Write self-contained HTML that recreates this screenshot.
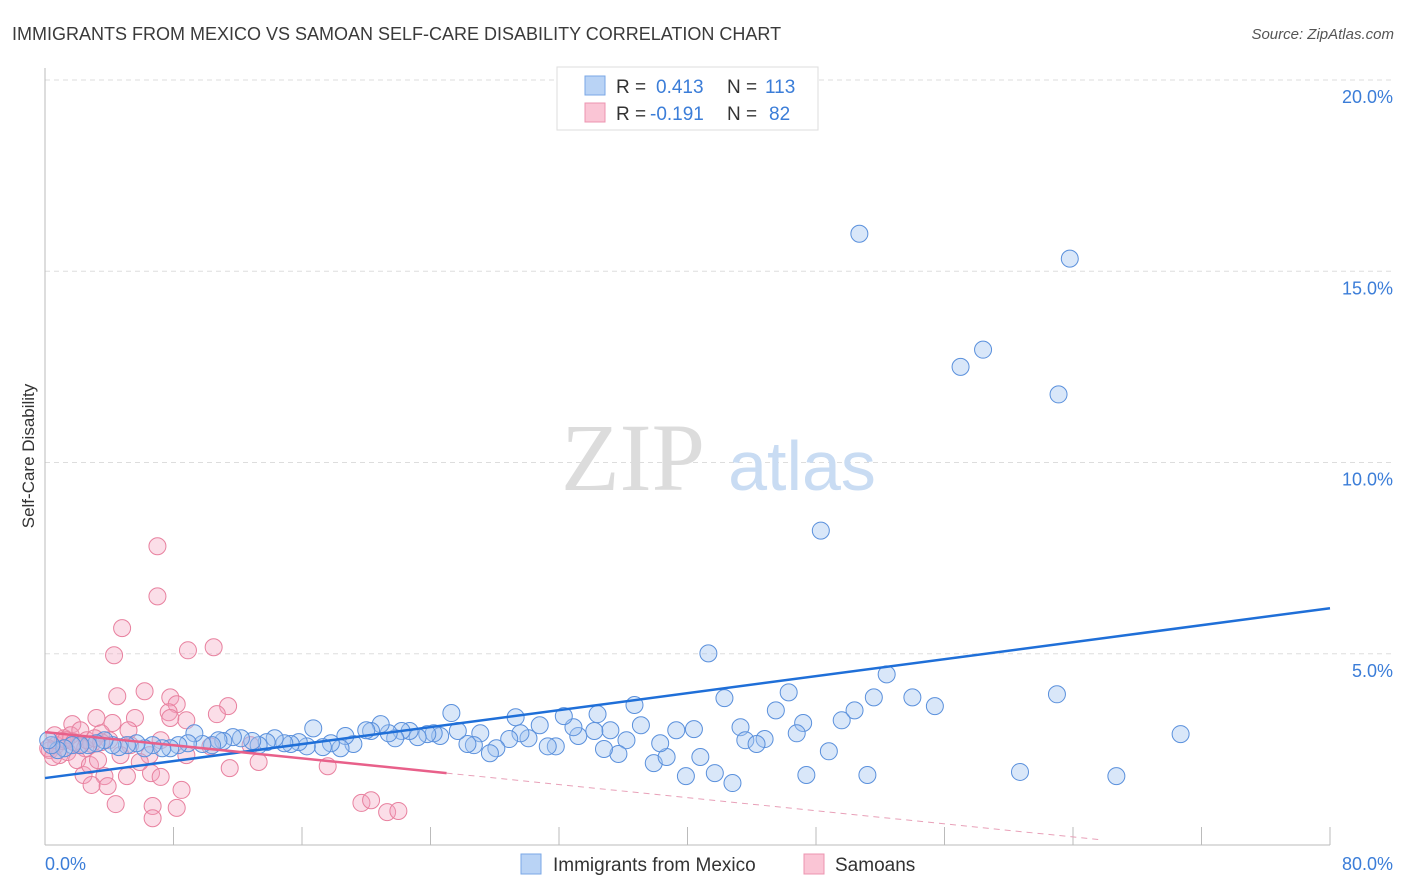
<!DOCTYPE html>
<html><head><meta charset="utf-8"><style>
body{margin:0;background:#fff;font-family:"Liberation Sans",sans-serif}
svg{display:block}
</style></head><body>
<svg id="chart" width="1406" height="892" xmlns="http://www.w3.org/2000/svg">
<text x="12" y="40" font-size="18" fill="#3a3a3a">IMMIGRANTS FROM MEXICO VS SAMOAN SELF-CARE DISABILITY CORRELATION CHART</text>
<text x="1394" y="39" font-size="15" fill="#555" font-style="italic" text-anchor="end">Source: ZipAtlas.com</text>
<g id="grid"></g>
<g>
<text x="633" y="490" font-size="96" font-family="Liberation Serif,serif" fill="#dcdcdc" text-anchor="middle">ZIP</text>
<text x="802" y="490" font-size="70" fill="#c9dcf3" text-anchor="middle">atlas</text>
</g>
<g id="axes"></g>
<g id="pts"></g>
<g id="lines"></g>
<text transform="translate(34,456) rotate(-90)" font-size="17" fill="#333" text-anchor="middle">Self-Care Disability</text>
<g>
<rect x="557" y="67" width="261" height="63" fill="#fff" stroke="#ddd"/>
<rect x="585" y="76" width="20" height="19" fill="#b9d3f5" stroke="#7aa7e6"/>
<rect x="585" y="103" width="20" height="19" fill="#fac5d5" stroke="#ec94b0"/>
<text x="616" y="93" font-size="19" fill="#333">R = </text><text x="656" y="93" font-size="19" fill="#3b7dd8">0.413</text>
<text x="727" y="93" font-size="19" fill="#333">N = </text><text x="765" y="93" font-size="19" fill="#3b7dd8">113</text>
<text x="616" y="120" font-size="19" fill="#333">R = </text><text x="650" y="120" font-size="19" fill="#3b7dd8">-0.191</text>
<text x="727" y="120" font-size="19" fill="#333">N = </text><text x="769" y="120" font-size="19" fill="#3b7dd8">82</text>
</g>
<g>
<rect x="521" y="854" width="20" height="20" fill="#b9d3f5" stroke="#7aa7e6"/>
<text x="553" y="871" font-size="19" fill="#333">Immigrants from Mexico</text>
<rect x="804" y="854" width="20" height="20" fill="#fac5d5" stroke="#ec94b0"/>
<text x="835" y="871" font-size="19" fill="#333">Samoans</text>
</g>
</svg>
<script>
const blueX=[50.7,63.8,58.4,57.0,63.1,48.3,41.3,42.3,46.3,52.4,51.6,54.0,55.4,63.0,50.4,49.6,47.2,45.5,43.3,43.6,44.8,44.3,48.8,46.8,70.7,60.7,66.7,51.2,47.4,42.8,41.7,39.9,37.9,38.7,38.3,37.1,36.2,35.7,34.8,35.2,34.4,34.2,36.7,39.3,40.4,40.8,33.2,32.9,32.3,31.8,31.3,30.8,30.1,29.3,29.6,28.9,28.1,27.7,27.1,26.7,26.3,25.7,25.3,24.6,24.2,23.8,23.2,22.7,22.2,21.8,21.4,20.9,20.3,20.0,19.2,18.7,18.4,17.8,17.3,16.7,16.3,15.8,15.3,14.9,14.3,13.8,13.3,12.9,12.2,11.7,11.1,10.8,10.4,9.8,9.3,8.9,8.3,7.8,7.3,6.7,6.2,5.7,5.1,4.6,4.2,3.7,3.2,2.7,2.2,1.7,1.2,0.8,0.4,0.2];
const blueY=[15.98,15.33,12.95,12.5,11.78,8.22,5.01,3.84,3.99,4.46,3.86,3.86,3.63,3.94,3.52,3.26,3.19,3.52,3.08,2.74,2.77,2.64,2.45,2.92,2.90,1.91,1.80,1.83,1.83,1.62,1.88,1.80,2.14,2.30,2.66,3.13,2.74,2.38,2.51,3.00,3.42,2.98,3.66,3.00,3.03,2.30,2.85,3.08,3.37,2.58,2.58,3.13,2.79,3.34,2.92,2.77,2.53,2.40,2.92,2.61,2.64,2.98,3.45,2.85,2.92,2.90,2.82,2.98,2.98,2.79,2.92,3.16,2.98,3.00,2.64,2.85,2.53,2.66,2.56,3.05,2.58,2.69,2.64,2.66,2.79,2.69,2.61,2.72,2.79,2.82,2.72,2.74,2.61,2.64,2.92,2.66,2.61,2.53,2.53,2.61,2.53,2.66,2.61,2.56,2.61,2.74,2.66,2.61,2.61,2.61,2.53,2.48,2.61,2.74];
const pinkX=[7.0,7.0,4.8,4.3,8.9,10.5,4.5,6.2,7.8,11.4,10.7,8.2,7.7,8.8,7.8,5.6,4.2,3.2,1.7,3.5,2.9,2.1,1.2,0.7,0.3,0.9,1.4,2.5,4.0,5.2,5.3,6.5,7.2,10.3,12.8,13.3,11.5,8.8,5.1,6.6,7.2,3.7,2.4,2.9,3.9,4.4,6.7,6.7,8.2,8.5,17.6,19.7,20.3,21.3,22.0,2.0,2.8,3.3,5.9,4.7,1.1,1.6,2.2,0.6,0.2,0.5,1.3,1.8,2.6,3.1,3.5];
const pinkY=[7.81,6.50,5.67,4.96,5.09,5.17,3.89,4.02,3.86,3.63,3.42,3.68,3.47,3.26,3.32,3.32,3.19,3.32,3.16,2.92,2.64,2.61,2.79,2.61,2.48,2.35,2.43,2.53,2.74,3.00,2.61,2.35,2.74,2.58,2.61,2.17,2.01,2.35,1.80,1.88,1.78,1.80,1.83,1.57,1.54,1.07,1.02,0.70,0.97,1.44,2.06,1.10,1.17,0.86,0.89,2.22,2.09,2.22,2.17,2.35,2.72,2.87,3.00,2.87,2.53,2.30,2.74,2.69,2.74,2.79,2.69];
const yTicks=[5,10,15,20];
const yTickLabels=["5.0%","10.0%","15.0%","20.0%"];
const xTickVals=[0,8,16,24,32,40,48,56,64,72,80];
const blueTrend=[1.75,6.19];
const pinkTrend=[2.95,1.88];
const pinkSolidEnd=25;
const pinkDashEnd=65.7;

const NS="http://www.w3.org/2000/svg";
const X0=45,X1=1330,Y0=845,Y20=80;
const sx=v=>X0+(X1-X0)*v/80;
const sy=v=>Y0-(Y0-Y20)*v/20;
function mk(tag,attrs,parent){const e=document.createElementNS(NS,tag);for(const k in attrs)e.setAttribute(k,attrs[k]);parent.appendChild(e);return e;}
const grid=document.getElementById('grid');
yTicks.forEach((t,i)=>{
 const l=mk('line',{x1:X0,x2:1393,y1:sy(t),y2:sy(t),stroke:'#ddd','stroke-dasharray':'5,4'},grid);
 
 
 const tx=mk('text',{x:1393,y:sy(t)+23,'font-size':18,fill:'#3b7dd8','text-anchor':'end'},grid);
 tx.textContent=yTickLabels[i];
 
 
});
const ax=document.getElementById('axes');
mk('line',{x1:X0,x2:X0,y1:68,y2:Y0,stroke:'#bbb'},ax);
mk('line',{x1:X0,x2:X1,y1:Y0,y2:Y0,stroke:'#bbb'},ax);
xTickVals.forEach(v=>{
 const t=mk('line',{x1:sx(v),x2:sx(v),y1:Y0-18,y2:Y0,stroke:'#bbb'},ax);
 
 
});
const xl0=mk('text',{x:45,y:870,'font-size':18,fill:'#3b7dd8'},ax);xl0.textContent="0.0%";


const xl1=mk('text',{x:1393,y:870,'font-size':18,fill:'#3b7dd8','text-anchor':'end'},ax);xl1.textContent="80.0%";


const pts=document.getElementById('pts');
pinkX.forEach((x,i)=>{
 const c=mk('circle',{cx:sx(x),cy:sy(pinkY[i]),r:8.5,fill:'rgba(244,160,188,0.35)',stroke:'#e8819f','stroke-width':1},pts);
 
 
});
blueX.forEach((x,i)=>{
 const c=mk('circle',{cx:sx(x),cy:sy(blueY[i]),r:8.5,fill:'rgba(160,196,240,0.4)',stroke:'#5a90dc','stroke-width':1},pts);
 
 
});
const ln=document.getElementById('lines');
const bl=mk('line',{x1:sx(0),y1:sy(blueTrend[0]),x2:sx(80),y2:sy(blueTrend[1]),stroke:'#1f6fd8','stroke-width':2.5},ln);


const slope=(pinkTrend[1]-pinkTrend[0])/pinkSolidEnd;
const pl=mk('line',{x1:sx(0),y1:sy(pinkTrend[0]),x2:sx(pinkSolidEnd),y2:sy(pinkTrend[1]),stroke:'#e8608a','stroke-width':2.5},ln);


const pd=mk('line',{x1:sx(pinkSolidEnd),y1:sy(pinkTrend[1]),x2:sx(pinkDashEnd),y2:sy(pinkTrend[0]+slope*pinkDashEnd),stroke:'#e8a0b8','stroke-width':1,'stroke-dasharray':'6,5'},ln);


</script>
</body></html>
